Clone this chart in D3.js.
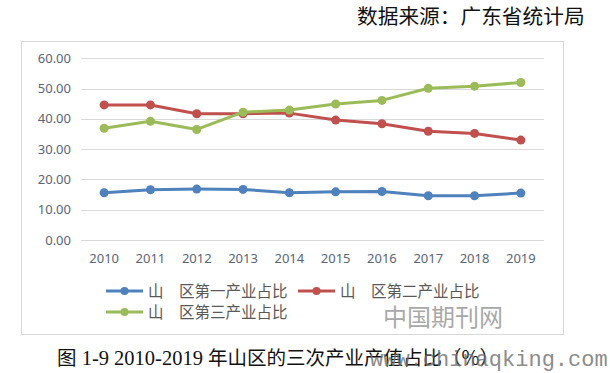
<!DOCTYPE html>
<html>
<head>
<meta charset="utf-8">
<script src="https://cdn.jsdelivr.net/npm/d3@7"></script>
<style>
  body { margin: 0; background: #fff; }
  text { white-space: pre; }
</style>
</head>
<body>
<div id="chart"></div>
<script>
// data
const years = ['2010', '2011', '2012', '2013', '2014', '2015', '2016', '2017', '2018', '2019'];
const primary = [15.6, 16.6, 16.8, 16.7, 15.6, 15.9, 16.0, 14.6, 14.6, 15.5];
const secondary = [44.6, 44.6, 41.7, 41.7, 41.9, 39.6, 38.4, 35.9, 35.2, 33.0];
const tertiary = [36.9, 39.2, 36.5, 42.2, 42.9, 44.9, 46.1, 50.1, 50.8, 52.0];
const seriesNames = ['山\u3000区第一产业占比', '山\u3000区第二产业占比', '山\u3000区第三产业占比'];
const yTicks = [0, 10, 20, 30, 40, 50, 60];

const FRAME_WIDTH = 610;
const FRAME_HEIGHT = 373;
const COLORS = ['#4f81bd', '#c0504d', '#9bbb59'];
const CJK = '"Noto Sans CJK SC", sans-serif';

const svg = d3.select('#chart')
    .append('svg')
        .attr('width', FRAME_WIDTH)
        .attr('height', FRAME_HEIGHT);

// source note at top
svg.append('text')
    .attr('x', 357).attr('y', 24)
    .attr('font-family', CJK)
    .attr('font-size', '20.7px')
    .attr('fill', '#111')
    .text('数据来源：广东省统计局');

// chart frame
svg.append('rect')
    .attr('x', 21.5).attr('y', 41.5)
    .attr('width', 542).attr('height', 293)
    .attr('fill', '#fff')
    .attr('stroke', '#d9d9d9');

const X_SCALE = d3.scaleBand()
    .domain(years)
    .range([81, 544]);

const Y_SCALE = d3.scaleLinear()
    .domain([0, 60])
    .range([240, 58.3]);

// gridlines
svg.append('g')
    .selectAll('line')
    .data(yTicks)
    .enter()
    .append('line')
        .attr('x1', 81).attr('x2', 544)
        .attr('y1', d => Math.round(Y_SCALE(d)) + 0.5)
        .attr('y2', d => Math.round(Y_SCALE(d)) + 0.5)
        .attr('stroke', '#d9d9d9');

// y axis labels
svg.append('g')
    .selectAll('text')
    .data(yTicks)
    .enter()
    .append('text')
        .attr('x', 71)
        .attr('y', d => Y_SCALE(d))
        .attr('dy', '0.35em')
        .attr('text-anchor', 'end')
        .attr('font-family', '"Noto Sans", sans-serif')
        .attr('font-size', '13px')
        .attr('fill', '#5a6577')
        .text(d => d.toFixed(2));

// x axis labels
svg.append('g')
    .selectAll('text')
    .data(years)
    .enter()
    .append('text')
        .attr('x', d => X_SCALE(d) + X_SCALE.bandwidth() / 2)
        .attr('y', 258)
        .attr('dy', '0.35em')
        .attr('text-anchor', 'middle')
        .attr('font-family', '"Noto Sans", sans-serif')
        .attr('font-size', '13px')
        .attr('fill', '#5a6577')
        .text(d => d);

// lines and markers
const allSeries = [primary, secondary, tertiary];
const line = d3.line()
    .x((d, i) => X_SCALE(years[i]) + X_SCALE.bandwidth() / 2)
    .y(d => Y_SCALE(d));

allSeries.forEach((vals, k) => {
    svg.append('path')
        .attr('d', line(vals))
        .attr('fill', 'none')
        .attr('stroke', COLORS[k])
        .attr('stroke-width', 3)
        .attr('stroke-linejoin', 'round');
    svg.append('g')
        .selectAll('circle')
        .data(vals)
        .enter()
        .append('circle')
            .attr('cx', (d, i) => X_SCALE(years[i]) + X_SCALE.bandwidth() / 2)
            .attr('cy', d => Y_SCALE(d))
            .attr('r', 4.5)
            .attr('fill', COLORS[k]);
});

// legend
const legendPos = [[106, 291], [298, 291], [106, 312]];
seriesNames.forEach((name, k) => {
    const g = svg.append('g')
        .attr('transform', 'translate(' + legendPos[k][0] + ',' + legendPos[k][1] + ')');
    g.append('line')
        .attr('x1', 0).attr('x2', 37)
        .attr('stroke', COLORS[k])
        .attr('stroke-width', 3);
    g.append('circle')
        .attr('cx', 18.5).attr('r', 4)
        .attr('fill', COLORS[k]);
    g.append('text')
        .attr('x', 42)
        .attr('dy', '0.36em')
        .attr('font-family', CJK)
        .attr('font-size', '15.5px')
        .attr('fill', '#595959')
        .text(name);
});

// watermark inside chart
svg.append('text')
    .attr('x', 383).attr('y', 326)
    .attr('font-family', CJK)
    .attr('font-size', '24px')
    .attr('fill', '#9a9a9a')
    .attr('opacity', 0.85)
    .text('中国期刊网');

// caption: CJK parts and latin parts
const caption = svg.append('text')
    .attr('x', 57).attr('y', 365)
    .attr('fill', '#111');
caption.append('tspan')
    .attr('font-family', CJK).attr('font-size', '19.5px')
    .text('图');
caption.append('tspan')
    .attr('font-family', '"Liberation Serif", serif').attr('font-size', '20.5px')
    .text(' 1-9 2010-2019 ');
caption.append('tspan')
    .attr('font-family', CJK).attr('font-size', '19.5px')
    .text('年山区的三次产业产值占比（%）');

// site watermark over caption
svg.append('text')
    .attr('x', 370).attr('y', 366)
    .attr('font-family', '"Liberation Mono", monospace')
    .attr('font-size', '22px')
    .attr('fill', '#707070')
    .attr('opacity', 0.8)
    .text('www.chinaqking.com');
</script>
</body>
</html>
